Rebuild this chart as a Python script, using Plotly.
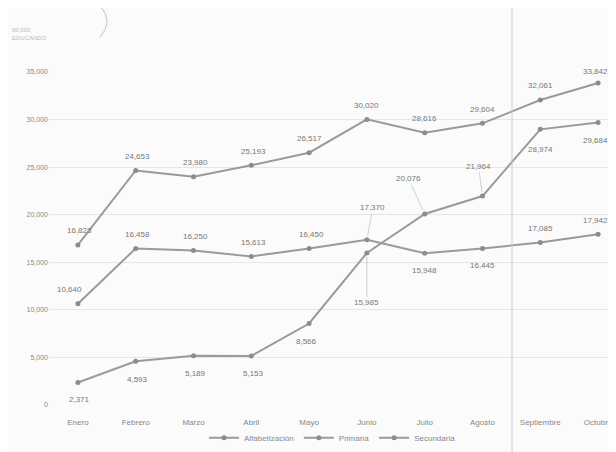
import plotly.graph_objects as go

meses = ["Enero", "Febrero", "Marzo", "Abril", "Mayo", "Junio", "Julio",
         "Agosto", "Septiembre", "Octubre"]
alfabetizacion = [2371, 4593, 5189, 5153, 8566, 15985, 20076, 21964, 28974, 29684]
primaria = [10640, 16458, 16250, 15613, 16450, 17370, 15948, 16445, 17085, 17942]
secundaria = [16823, 24653, 23980, 25193, 26517, 30020, 28616, 29604, 32061, 33842]
y_ticks = [0, 5000, 10000, 15000, 20000, 25000, 30000, 35000]

# label offsets (pixels) per point: (xshift, yshift)
off_alf = [(2, -17), (2, -18), (2, -18), (2, -18), (-3, -18), (0, -50), (-16, 35), (-4, 30), (0, -20), (-3, -18)]
off_pri = [(-8, 14), (2, 14), (2, 14), (2, 14), (2, 14), (6, 32), (0, -17), (0, -17), (0, 14), (-3, 14)]
off_sec = [(2, 14), (2, 14), (2, 14), (2, 14), (0, 14), (0, 14), (0, 14), (0, 14), (0, 14), (-3, 12)]
leader_alf = [False, False, False, False, False, True, True, True, False, False]
leader_pri = [False, False, False, False, False, True, False, False, False, False]

line_col = "#9a9a9a"
text_col = "#777777"
font = "Liberation Sans Narrow, Liberation Sans, Arial"

fig = go.Figure()
for name, vals in [("Alfabetización", alfabetizacion), ("Primaria", primaria),
                   ("Secundaria", secundaria)]:
    fig.add_trace(go.Scatter(
        x=meses, y=vals, name=name, mode="lines+markers",
        line=dict(color=line_col, width=2),
        marker=dict(color="#8c8c8c", size=5),
    ))

annotations = []
for vals, offs, leads in [(alfabetizacion, off_alf, leader_alf),
                          (primaria, off_pri, leader_pri),
                          (secundaria, off_sec, [False] * 10)]:
    for i, v in enumerate(vals):
        dx, dy = offs[i]
        if leads[i]:
            annotations.append(dict(
                x=meses[i], y=v, text=f"{v:,}", showarrow=True,
                ax=dx, ay=-dy, arrowhead=0, arrowwidth=0.6,
                arrowcolor="#b0b0b0", standoff=4,
                font=dict(size=8, color=text_col, family=font)))
        else:
            annotations.append(dict(
                x=meses[i], y=v, text=f"{v:,}", showarrow=False,
                xshift=dx, yshift=dy,
                font=dict(size=8, color=text_col, family=font)))

# faint logo text at top-left
annotations.append(dict(xref="paper", yref="paper", x=-0.068, y=1.14,
                        xanchor="left", yanchor="top",
                        text="50,000<br>EDUCANDO", showarrow=False,
                        align="left",
                        font=dict(size=6, color="#b8b8c8", family=font)))

fig.update_layout(
    width=608, height=444,
    margin=dict(l=41, r=0, t=64, b=47, autoexpand=False),
    paper_bgcolor="#fbfbfb", plot_bgcolor="#fbfbfb",
    font=dict(family=font, color=text_col, size=8),
    showlegend=True,
    legend=dict(orientation="h", x=0.5, xanchor="center",
                yref="container", y=0.032, yanchor="middle",
                font=dict(size=8, color="#888888"),
                bgcolor="rgba(0,0,0,0)"),
    xaxis=dict(range=[-0.5, 9.31], showgrid=False, zeroline=False,
               showline=False, ticks="outside", ticklen=9,
               tickcolor="rgba(0,0,0,0)", automargin=False,
               tickfont=dict(size=8, color="#888888")),
    yaxis=dict(range=[0, 35000], tickvals=y_ticks, tickformat=",",
               showgrid=True, gridcolor="#e6e6e6", gridwidth=1,
               zeroline=False, showline=False, ticks="", automargin=False,
               tickfont=dict(size=7, color="#888888")),
    annotations=annotations,
    shapes=[
        dict(type="line", xref="paper", yref="paper", x0=0.8166, x1=0.8166,
             y0=-0.2, y1=1.25, line=dict(color="#c8ccd8", width=1)),
        dict(type="path", xref="paper", yref="paper",
             path="M 0.09 1.2 Q 0.115 1.15 0.09 1.105",
             line=dict(color="#c0c0c0", width=1)),
    ],
)

fig.write_html("out.html")
